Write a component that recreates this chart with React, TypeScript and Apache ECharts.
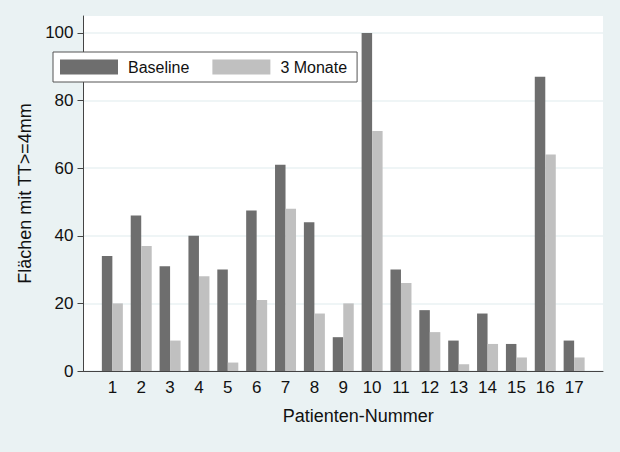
import React, { useEffect, useRef } from "react";
import * as echarts from "echarts";

const patients = ["1", "2", "3", "4", "5", "6", "7", "8", "9", "10", "11", "12", "13", "14", "15", "16", "17"];
const baseline = [34, 46, 31, 40, 30, 47.5, 61, 44, 10, 100, 30, 18, 9, 17, 8, 87, 9];
const threeMonths = [20, 37, 9, 28, 2.5, 21, 48, 17, 20, 71, 26, 11.5, 2, 8, 4, 64, 4];
const yTicks = [0, 20, 40, 60, 80, 100];

const FONT = "'Liberation Sans', Arial, sans-serif";

export default function App() {
  const ref = useRef<HTMLDivElement>(null);
  useEffect(() => {
    if (!ref.current) return;
    const chart = echarts.init(ref.current, undefined, { renderer: "svg" });
    const axisData = ["", ...patients, ""];
    const pad = (arr: number[]) => [null, ...arr, null];
    chart.setOption({
      animation: false,
      backgroundColor: "#eaf2f3",
      textStyle: { fontFamily: FONT },
      grid: {
        left: 83.5,
        right: 17,
        top: 16,
        bottom: 81,
        show: true,
        backgroundColor: "#ffffff",
        borderWidth: 0,
      },
      legend: {
        left: 53,
        top: 52,
        orient: "horizontal",
        padding: [7, 10, 7, 7],
        itemWidth: 58,
        itemHeight: 15,
        itemGap: 23,
        backgroundColor: "#ffffff",
        borderColor: "#555555",
        borderWidth: 1,
        borderRadius: 0,
        icon: "rect",
        textStyle: { fontSize: 16, color: "#111", fontFamily: FONT, padding: [0, 0, 0, 5] },
        data: ["Baseline", "3 Monate"],
      },
      xAxis: {
        type: "category",
        data: axisData,
        boundaryGap: false,
        axisLine: { show: true, lineStyle: { color: "#444", width: 1 } },
        axisTick: { show: false },
        axisLabel: { fontSize: 17, color: "#111", margin: 8, interval: 0, fontFamily: FONT },
        splitLine: { show: false },
        name: "Patienten-Nummer",
        nameLocation: "middle",
        nameGap: 36,
        nameTextStyle: { fontSize: 18, color: "#111", fontFamily: FONT, padding: [0, 0, 0, 30] },
      },
      yAxis: {
        type: "value",
        min: 0,
        max: 105,
        interval: 20,
        axisLine: { show: true, lineStyle: { color: "#444", width: 1 } },
        axisTick: { show: true, length: 6, lineStyle: { color: "#444" }, customValues: yTicks },
        axisLabel: { fontSize: 17, color: "#111", margin: 10, fontFamily: FONT, customValues: yTicks },
        splitLine: { show: true, lineStyle: { color: "#eaf2f3", width: 1.5 } },
        name: "Flächen mit TT>=4mm",
        nameLocation: "middle",
        nameGap: 50,
        nameRotate: 90,
        nameTextStyle: { fontSize: 18, color: "#111", fontFamily: FONT },
      },
      series: [
        {
          name: "Baseline",
          type: "bar",
          data: pad(baseline),
          barGap: "0%",
          barWidth: 10.5,
          itemStyle: { color: "#6e6e6e" },
        },
        {
          name: "3 Monate",
          type: "bar",
          data: pad(threeMonths),
          barGap: "0%",
          barWidth: 10.5,
          itemStyle: { color: "#c0c0c0" },
        },
      ],
    });
    return () => chart.dispose();
  }, []);
  return (
    <div
      ref={ref}
      style={{ position: "fixed", left: 0, top: 0, width: 620, height: 452 }}
    />
  );
}
